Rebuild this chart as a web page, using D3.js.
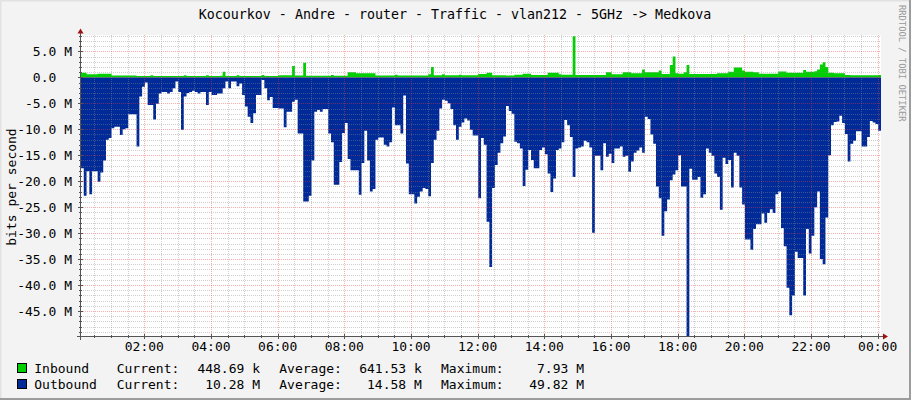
<!DOCTYPE html>
<html><head><meta charset="utf-8">
<script src="https://cdn.jsdelivr.net/npm/d3@7/dist/d3.min.js"></script>
<style>
body{margin:0;background:#f3f3f3;overflow:hidden}
text{font-family:"DejaVu Sans Mono",monospace;}
</style>
</head><body><svg id="chart" width="911" height="400"></svg>
<script>
const title = "Kocourkov - Andre - router - Traffic - vlan212 - 5GHz -> Medkova";
const yAxisTitle = "bits per second";
const watermark = "RRDTOOL / TOBI OETIKER";
const startMinute = 6;     // first sample, minutes after midnight
const stepMinutes = 5;

// Inbound (M bits/s), one value per 5 minutes, 12 per row = 1 hour
const inbound = [
0.9,0.9,0.6,0.6,0.6,0.6,0.7,0.7,0.7,0.7,0.7,0.35,
0.35,0.35,0.35,0.35,0.35,0.35,0.35,0.35,0.25,0.25,0.25,0.25,
0.25,0.4,0.25,0.25,0.25,0.25,0.25,0.25,0.25,0.25,0.25,0.25,
0.25,0.4,0.25,0.25,0.25,0.25,0.25,0.25,0.25,0.4,0.25,0.25,
0.25,0.25,0.3,1.1,0.25,0.25,0.25,0.25,0.4,0.25,0.25,0.25,
0.25,0.25,0.25,0.25,0.25,0.45,0.25,0.25,0.25,0.25,0.25,0.4,
0.4,0.4,0.4,0.4,2.2,0.35,0.35,0.35,2.8,0.3,0.3,0.3,
0.3,0.3,0.3,0.3,0.3,0.3,0.45,0.3,0.3,0.3,0.3,0.3,
1.0,1.0,1.0,0.8,0.8,0.8,0.8,0.8,0.8,0.8,0.35,0.35,
0.35,0.35,0.35,0.35,0.35,0.5,0.35,0.35,0.35,0.35,0.35,0.35,
0.35,0.35,0.35,0.35,0.35,0.6,2.0,0.4,0.4,0.4,0.6,0.4,
0.4,0.4,0.4,0.4,0.5,0.4,0.4,0.4,0.4,0.4,0.4,0.65,
0.65,0.65,0.9,0.9,0.4,0.4,0.4,0.4,0.4,0.35,0.35,0.35,
0.5,0.5,0.5,0.7,0.7,0.7,0.45,0.45,0.45,0.45,0.45,0.45,
0.9,0.9,0.9,0.9,0.6,0.5,0.5,0.5,0.5,7.93,0.45,0.45,
0.45,0.45,0.45,0.45,0.45,0.45,0.45,0.45,0.45,1.0,1.0,0.6,
0.6,0.6,0.6,1.0,1.0,1.0,0.8,0.8,0.8,0.8,1.5,1.0,
1.0,1.0,1.0,1.0,1.3,0.65,0.65,0.65,2.4,4.0,0.8,0.7,
0.7,1.0,2.4,0.65,0.65,0.65,0.65,0.65,0.65,0.65,0.65,0.65,
0.65,0.8,0.8,0.8,0.8,1.1,1.1,1.9,1.9,1.9,1.3,1.1,
1.1,1.1,1.0,1.0,0.7,0.7,0.7,0.7,0.7,0.7,0.7,1.15,
1.15,1.15,0.9,0.9,0.9,0.9,0.9,0.9,1.4,1.1,1.1,1.1,
1.2,1.5,2.5,2.9,2.0,0.9,0.9,0.8,0.8,0.8,0.8,0.45,
0.45,0.4,0.4,0.4,0.4,0.4,0.4,0.4,0.4,0.4,0.4,0.45
];

// Outbound (M bits/s), drawn below zero
const outbound = [
17.5,22.8,18.1,22.5,18.1,18.1,20.1,18.3,16,12.0,11.7,9.8,
9.5,9.5,11.1,10.0,9.8,7.1,7.1,7.1,13.3,3.7,1.8,1.0,
5.3,5.3,8.1,5.1,3.1,2.8,2.8,3.1,2.8,2.1,0.8,2.8,
10.1,3.7,3.0,2.8,2.6,2.8,3.1,2.8,2.8,5.3,2.8,3.4,
3.4,3.1,3.1,2.1,0.8,2.1,0.8,0.8,1.7,1.2,3.4,5.6,
7.6,8.8,6.9,3.4,3.4,0.5,2.1,4.4,3.8,5.9,5.9,6.0,
6.0,9.6,6.6,6.6,4.7,4.3,10.8,10.8,23.9,23.9,22.8,16,
6.6,6.3,6.6,6.1,6.1,10.8,12.5,20.7,20.7,16.3,10.7,8.8,
15.7,17.9,17.9,17.9,22.6,16.5,10.3,16,22,21.5,12,11.6,
11.6,13,13.3,12.5,5.8,9.2,9.2,10.8,3.5,16.6,22.5,22.5,
24.3,23,22,21.3,21.5,22.9,16.5,12,10.3,6,4.3,4.5,
5.0,6.1,9.2,12,9.5,8.7,7.9,8.3,10.1,11.2,11.2,23.3,
11.7,13,27.8,36.5,21.3,16.9,14.5,12.7,11.4,5.5,6.5,7.0,
12.4,12.7,13.7,20.9,17.8,14,15.9,17.5,17.5,14,13.5,14.8,
18.5,22.1,19.5,14,13.7,12.5,8.2,9.2,11.5,19.2,13.7,13.5,
13.3,12.2,12.5,13.5,29.9,15.1,15.1,17.9,12.7,15.3,14.7,16.5,
13.7,13.7,13.3,15.3,15.1,18.2,16.2,14.5,14.1,13.5,14.5,7.6,
8,11,12.8,21,23.3,30.5,25.8,23.5,19.8,18.7,17.9,15,
21,21,49.8,17.6,19.7,19.7,19.2,23.2,22.5,13.7,14.5,15.1,
18.5,19.2,25.5,15.5,16.7,15.9,21.2,14.5,15.1,21.2,24.5,31.2,
31.2,33.2,29.2,28.3,28.3,26.2,28,26.1,25.4,26.1,22.5,22,
29,32.5,40.5,45.8,42,33.6,34.8,34.8,42,29.2,33.9,30.5,
25,22,35,36,27,15,9.2,8.6,8.5,7.4,8.8,10.9,
16.2,12.8,12.2,10.4,10.4,13.3,13.3,11.5,8.4,8.7,9.0,10.3
];

const xTickMinutes = [120,240,360,480,600,720,840,960,1080,1200,1320,1440];
const xTickLabels = ["02:00","04:00","06:00","08:00","10:00","12:00","14:00","16:00","18:00","20:00","22:00","00:00"];
const yTickValues = [5,0,-5,-10,-15,-20,-25,-30,-35,-40,-45];
const yTickLabels = ["5.0 M","0.0","-5.0 M","-10.0 M","-15.0 M","-20.0 M","-25.0 M","-30.0 M","-35.0 M","-40.0 M","-45.0 M"];

const legendNames = ["Inbound","Outbound"];
const legendColors = ["#00CF00","#002A97"];
const legendCurrent = ["448.69 k","10.28 M"];
const legendAverage = ["641.53 k","14.58 M"];
const legendMaximum = ["7.93 M","49.82 M"];

const W = 911, H = 400;
const plot = {left: 81, right: 881, top: 35.3, bottom: 337};
const svg = d3.select("#chart");

// background + 3D border
svg.append("rect").attr("width", W).attr("height", H).attr("fill", "#f3f3f3");
svg.append("path").attr("d", `M0,${H} V0 H${W}`).attr("fill","none").attr("stroke","#e2e2e2").attr("stroke-width",3);
svg.append("path").attr("d", `M0,${H-1} H${W-1} V0`).attr("fill","none").attr("stroke","#9c9c9c").attr("stroke-width",2);

const totalMinutes = inbound.length * stepMinutes;
const x = d3.scaleLinear().domain([startMinute, startMinute + totalMinutes]).range([plot.left, plot.right]);
const y = d3.scaleLinear().domain([-50, 8.1]).range([plot.bottom, plot.top]);

svg.append("rect").attr("x", plot.left).attr("y", plot.top)
  .attr("width", plot.right - plot.left).attr("height", plot.bottom - plot.top).attr("fill", "#ffffff");

svg.append("clipPath").attr("id","clip").append("rect")
  .attr("x", plot.left).attr("y", plot.top).attr("width", plot.right - plot.left).attr("height", plot.bottom - plot.top);

function series(vals, sign) {
  const pts = vals.map((v, i) => ({t: startMinute + i * stepMinutes, v: sign * v}));
  pts.push({t: startMinute + vals.length * stepMinutes, v: sign * vals[vals.length - 1]});
  return pts;
}
const area = d3.area().x(d => x(d.t)).y0(y(0)).y1(d => y(d.v)).curve(d3.curveStepAfter);
const g = svg.append("g").attr("clip-path", "url(#clip)");
g.append("path").datum(series(outbound, -1)).attr("d", area).attr("fill", legendColors[1]);
g.append("path").datum(series(inbound, 1)).attr("d", area).attr("fill", legendColors[0]);

// grid on top
const grid = svg.append("g").attr("shape-rendering","crispEdges");
const minorCol = "rgba(140,140,140,0.42)", majorCol = "rgba(240,60,60,0.42)";
for (let v = -49; v <= 8; v++) {
  const yy = Math.round(y(v)) + 0.5;
  if (yy < plot.top) continue;
  const major = v % 5 === 0;
  grid.append("line").attr("x1", plot.left).attr("x2", plot.right).attr("y1", yy).attr("y2", yy)
    .attr("stroke", major ? majorCol : minorCol).attr("stroke-dasharray","1,1");
}
for (let m = 30; m <= 1440; m += 30) {
  const xx = Math.round(x(m)) + 0.5;
  if (xx <= plot.left) continue;
  const major = m % 120 === 0;
  grid.append("line").attr("x1", xx).attr("x2", xx).attr("y1", plot.top).attr("y2", plot.bottom)
    .attr("stroke", major ? majorCol : minorCol).attr("stroke-dasharray","1,1");
}

// axes
const axisCol = "#555";
const ax = svg.append("g").attr("shape-rendering","crispEdges");
ax.append("line").attr("x1", 77).attr("x2", 884).attr("y1", 336.5).attr("y2", 336.5).attr("stroke", axisCol);
ax.append("line").attr("x1", 80.5).attr("x2", 80.5).attr("y1", 340).attr("y2", 32).attr("stroke", axisCol);
for (let m = 30; m <= 1440; m += 30) {
  const xx = Math.round(x(m)) + 0.5;
  const major = m % 120 === 0;
  ax.append("line").attr("x1", xx).attr("x2", xx).attr("y1", major ? 334 : 335).attr("y2", major ? 339 : 338).attr("stroke", axisCol);
}
for (let v = -49; v <= 8; v++) {
  const yy = Math.round(y(v)) + 0.5;
  const major = v % 5 === 0;
  ax.append("line").attr("x1", major ? 78 : 79).attr("x2", major ? 83 : 82).attr("y1", yy).attr("y2", yy).attr("stroke", axisCol);
}
svg.append("path").attr("d","M80.5,28.5 L77.5,33.5 L83.5,33.5 Z").attr("fill","#a01010");
svg.append("path").attr("d","M888,336.5 L883,333.5 L883,339.5 Z").attr("fill","#a01010");

// tick labels
svg.append("g").selectAll("text").data(xTickMinutes).join("text")
  .attr("x", d => x(d)).attr("y", 351).attr("text-anchor","middle")
  .attr("font-size", 13).attr("fill","#000").text((d, i) => xTickLabels[i]);
svg.append("g").selectAll("text").data(yTickValues).join("text")
  .attr("x", (d, i) => 72 - (yTickLabels[i].endsWith(" M") ? 0 : 2 * 7.83))
  .attr("y", d => y(d) + 4.6).attr("text-anchor","end")
  .attr("font-size", 13).attr("fill","#000").text((d, i) => yTickLabels[i]);

// titles
svg.append("text").attr("x", 455).attr("y", 19).attr("text-anchor","middle")
  .attr("font-size", 13.3).attr("fill","#000").text(title);
svg.append("text").attr("transform","translate(16,187) rotate(-90)").attr("text-anchor","middle")
  .attr("font-size", 13).attr("fill","#000").text(yAxisTitle);
svg.append("text").attr("transform","translate(899,5) rotate(90)").attr("text-anchor","start")
  .attr("font-size", 8.8).attr("fill","#999").text(watermark);

// legend
const lg = svg.append("g");
legendNames.forEach((name, i) => {
  const base = 372.5 + i * 16;
  lg.append("rect").attr("x", 17.5).attr("y", base - 9.5).attr("width", 9).attr("height", 9)
    .attr("fill", legendColors[i]).attr("stroke", "#000").attr("stroke-width", 1).attr("shape-rendering","crispEdges");
  const t = (xx, s, anchor) => lg.append("text").attr("x", xx).attr("y", base).attr("font-size", 13)
    .attr("fill","#000").attr("text-anchor", anchor).text(s);
  t(34.3, name, "start");
  t(116.7, "Current:", "start");
  t(260, legendCurrent[i], "end");
  t(279.3, "Average:", "start");
  t(421.8, legendAverage[i], "end");
  t(441, "Maximum:", "start");
  t(584, legendMaximum[i], "end");
});
</script></body></html>
